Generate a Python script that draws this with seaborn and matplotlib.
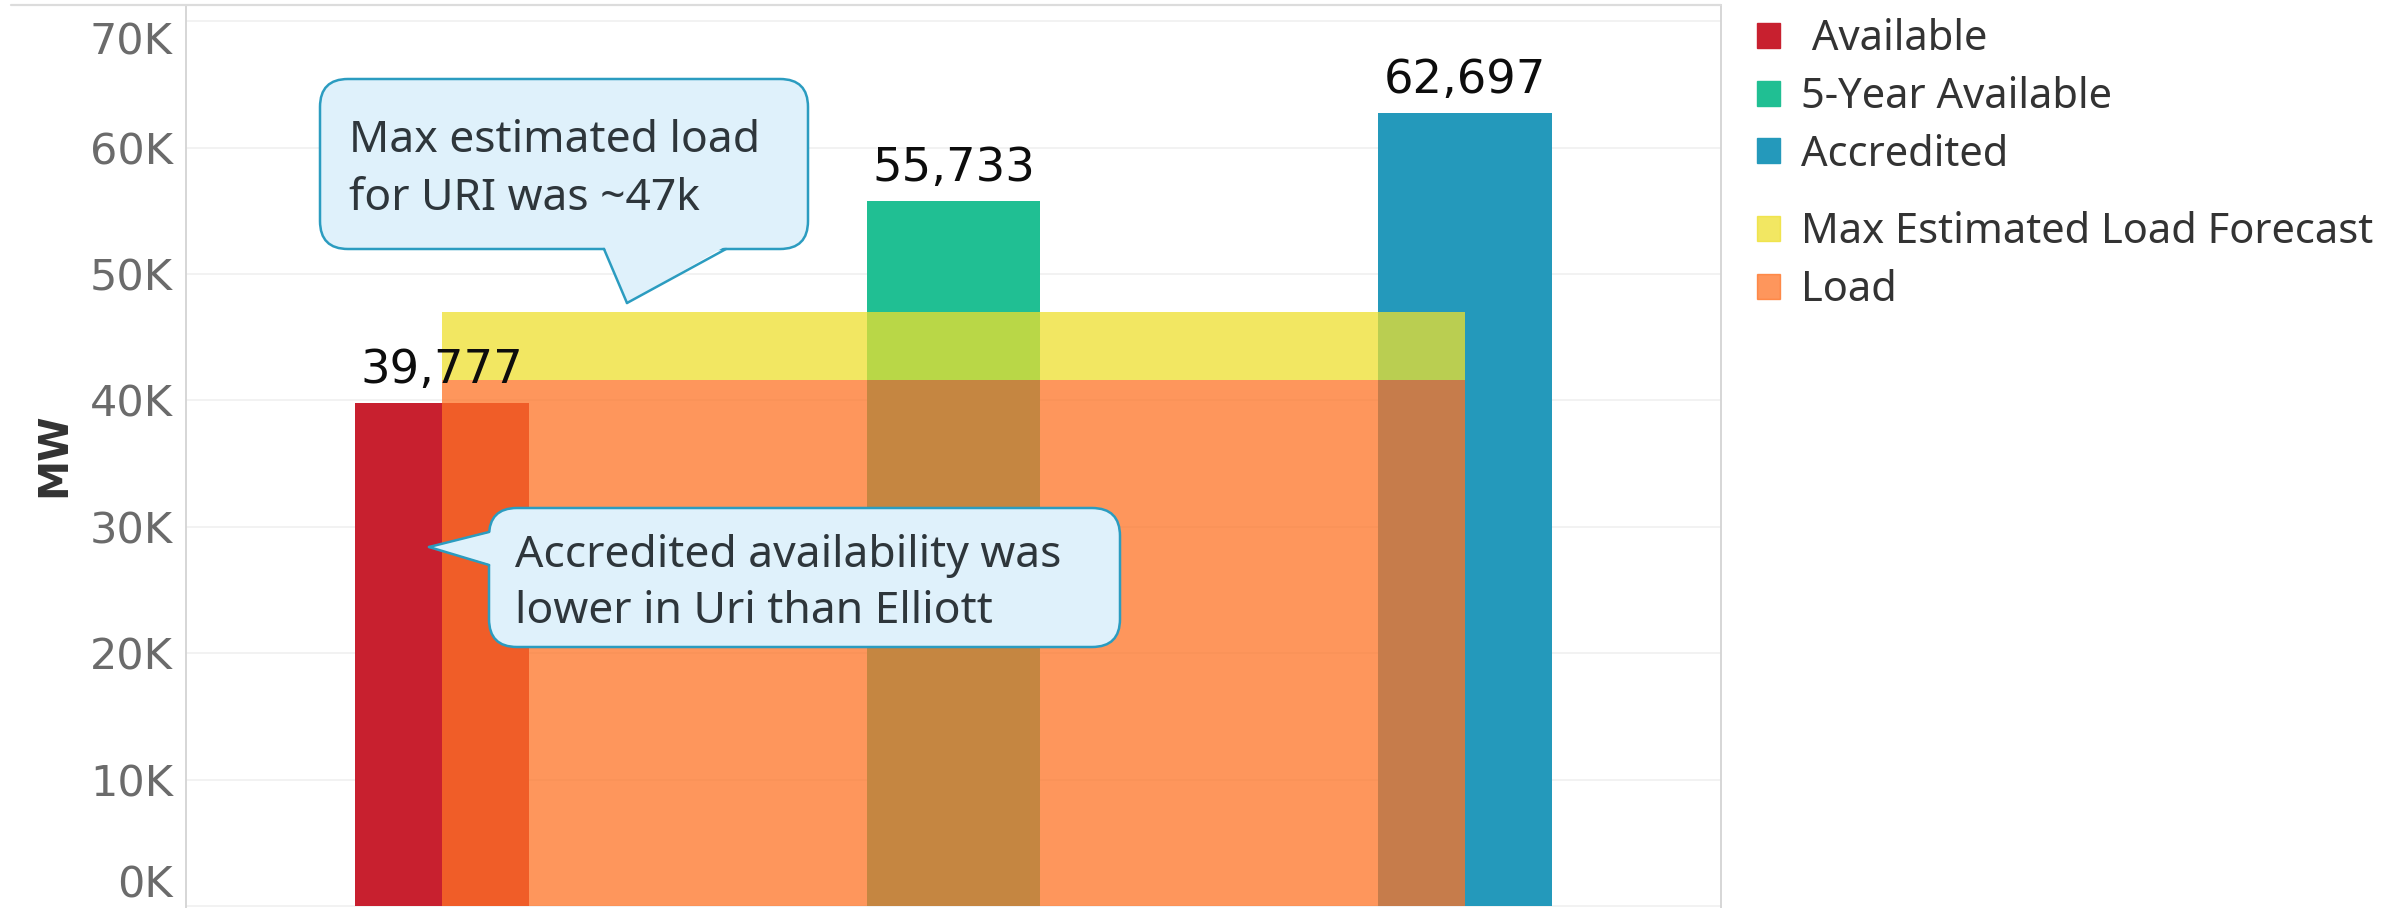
import matplotlib
matplotlib.use("Agg")
import matplotlib.pyplot as plt
import seaborn as sns
import numpy as np
from matplotlib.patches import FancyBboxPatch, Polygon, Patch
from matplotlib.lines import Line2D
from matplotlib.transforms import IdentityTransform, ScaledTranslation
from matplotlib.ticker import FixedLocator, FuncFormatter

# --- datos ---
categories = ["Available", "5-Year Available", "Accredited"]
capacity_mw = [39777, 55733, 62697]
bar_colors = ["#c8202f", "#20bf93", "#2499bb"]

load_mw = 41600
max_load_forecast_mw = 47000
band_labels = ["Max Estimated Load Forecast", "Load"]
band_colors = ["#eee02e", "#fe7326"]

y_ticks = [0, 10000, 20000, 30000, 40000, 50000, 60000, 70000]

W, H = 2402, 908
TEXT_FONT = ["Noto Sans", "DejaVu Sans"]

sns.set_theme(style="white")
plt.rcParams["font.family"] = ["DejaVu Sans"]

fig = plt.figure(figsize=(W / 100, H / 100), dpi=100)
ax = fig.add_axes([186 / W, 0, (1721 - 186) / W, (H - 5) / H])

# barras
sns.barplot(x=categories, y=capacity_mw, hue=categories, palette=bar_colors,
            width=0.34, saturation=1, linewidth=0, legend=False, ax=ax, zorder=2)

# area de carga (del primer al ultimo punto)
xs = np.arange(len(categories))[[0, -1]]
ax.fill_between(xs, 0, load_mw, color=band_colors[1], alpha=0.75, lw=0, zorder=3)
ax.fill_between(xs, load_mw, max_load_forecast_mw, color=band_colors[0],
                alpha=0.75, lw=0, zorder=3)

# etiquetas de valor
for i, v in enumerate(capacity_mw):
    ax.annotate(f"{v:,}", (i, v), xytext=(0, 14.5), textcoords="offset points",
                ha="center", va="baseline", fontsize=33.5, color="#0d0d0d", zorder=5)

# ejes
ax.set_xlim(-0.5, 2.5)
ax.set_ylim(-119, 71265)
ax.yaxis.set_major_locator(FixedLocator(y_ticks))
ax.yaxis.set_major_formatter(FuncFormatter(lambda v, p: f"{v / 1000:.0f}K"))
ax.set_xticks([])
ax.set_xlabel("")
ax.set_ylabel("")
ax.tick_params(axis="y", length=6.5, width=1, color="#ececec", pad=3,
               labelsize=31, labelcolor="#6b6b6b")
ax.grid(axis="y", color="#efefef", lw=1.1, zorder=0)
ax.set_axisbelow(True)
for side in ["top", "bottom"]:
    ax.spines[side].set_visible(False)
for side in ["left", "right"]:
    ax.spines[side].set_color("#d6d6d6")
    ax.spines[side].set_linewidth(1.4)

# borde superior del panel
fig.add_artist(Line2D([11 / W, 1721 / W], [1 - 5 / H, 1 - 5 / H],
                      transform=fig.transFigure, color="#dcdcdc", lw=1.6))

fig.text(54 / W, 1 - 455 / H, "MW", rotation=90, ha="center", va="center",
         fontsize=29, fontweight="bold", color="#333333")

# leyendas
handles1 = [Patch(color=c) for c in bar_colors]
handles2 = [Patch(color=c, alpha=0.75) for c in band_colors]
leg_kw = dict(frameon=False, loc="upper left", handlelength=0.55, handleheight=0.55,
              handletextpad=0.5, labelspacing=0.38, borderpad=0, borderaxespad=0,
              prop={"family": TEXT_FONT, "size": 30}, labelcolor="#333333")
leg1 = fig.legend(handles1, [" Available", "5-Year Available", "Accredited"],
                  bbox_to_anchor=(1757 / W, 1 - 18 / H), **leg_kw)
leg2 = fig.legend(handles2, band_labels, bbox_to_anchor=(1757 / W, 1 - 211 / H), **leg_kw)


def callout(box, tail, lines, text_x, baselines):
    face, edge = "#dff1fb", "#2b9cc0"
    x0, y0, x1, y1 = box
    fig.add_artist(FancyBboxPatch((x0, H - y1), x1 - x0, y1 - y0,
                                  boxstyle="round,pad=0,rounding_size=28",
                                  transform=IdentityTransform(), fc=face, ec=edge,
                                  lw=1.8, zorder=10))
    (bx1, by1), (bx2, by2), (tx, ty), (ix, iy) = tail
    fig.add_artist(Polygon([(bx1 + ix, H - by1 - iy), (bx2 + ix, H - by2 - iy), (tx, H - ty)],
                           closed=True, transform=IdentityTransform(), fc=face, lw=0,
                           zorder=11))
    for bx, by in [(bx1, by1), (bx2, by2)]:
        fig.add_artist(Line2D([bx, tx], [H - by, H - ty], transform=IdentityTransform(),
                              color=edge, lw=1.8, zorder=12, solid_capstyle="round"))
    for line, base in zip(lines, baselines):
        fig.text(text_x / W, 1 - base / H, line, ha="left", va="baseline", fontsize=32,
                 family=TEXT_FONT, color="#2e363b", zorder=13)


callout((320, 79, 808, 249), [(604, 249), (726, 249), (627, 303), (0, -3)],
        ["Max estimated load", "for URI was ~47k"], 349, [152, 210])
callout((489, 508, 1120, 647), [(489, 532), (489, 565), (429, 547), (3, 0)],
        ["Accredited availability was", "lower in Uri than Elliott"], 515, [567, 623])

# etiquetas extremas desplazadas hacia dentro como en el original
labels = ax.get_yticklabels()
labels[0].set_transform(labels[0].get_transform() + ScaledTranslation(0, 0.255, fig.dpi_scale_trans))
labels[-1].set_transform(labels[-1].get_transform() + ScaledTranslation(0, -0.17, fig.dpi_scale_trans))

fig.savefig("out.png", dpi=100)
